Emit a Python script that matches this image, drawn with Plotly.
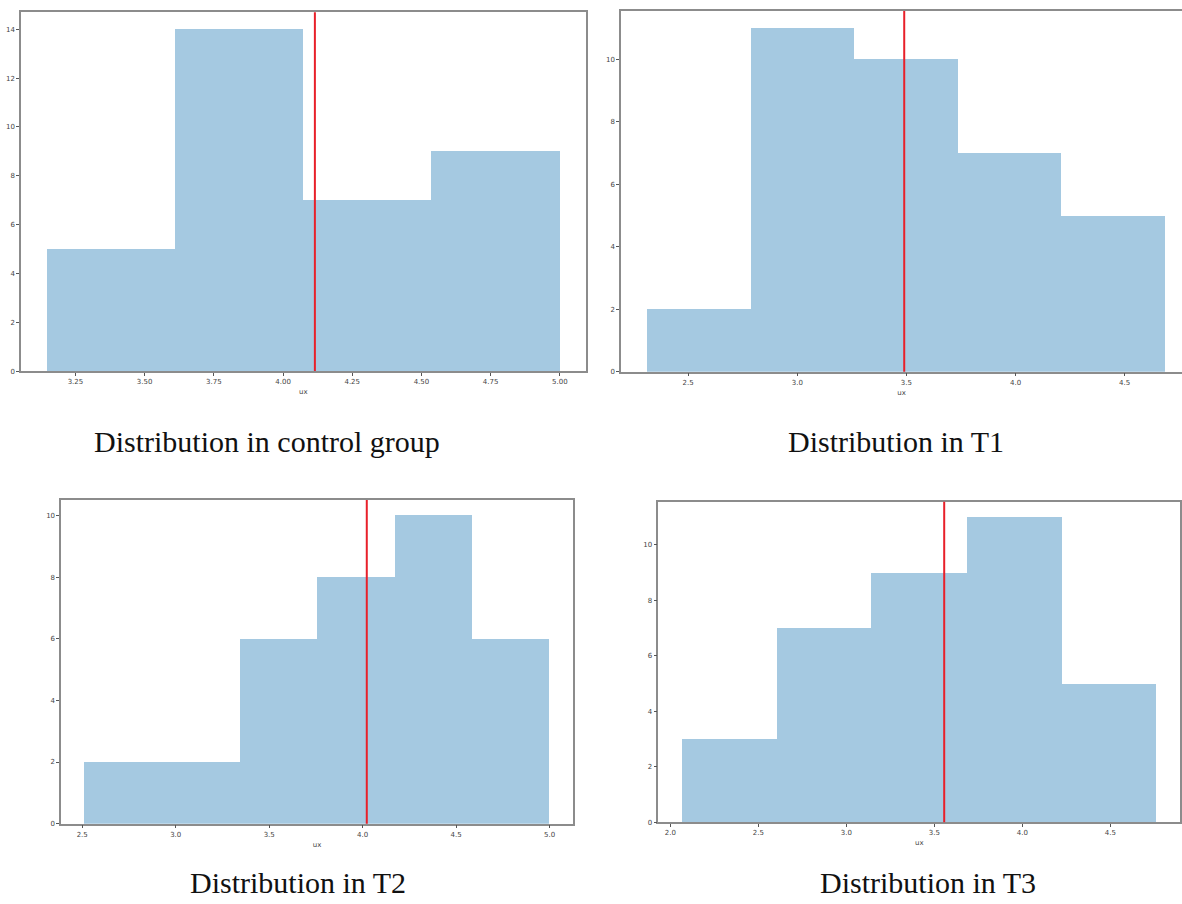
import plotly.graph_objects as go

# ---- data: histogram bin edges, counts and group mean per group ----
control_edges = [3.146, 3.609, 4.072, 4.536, 5.0]
control_counts = [5, 14, 7, 9]
control_mean = 4.115

t1_edges = [2.311, 2.787, 3.259, 3.735, 4.209, 4.683]
t1_counts = [2, 11, 10, 7, 5]
t1_mean = 3.49

t2_edges = [2.512, 2.927, 3.344, 3.756, 4.172, 4.586, 5.0]
t2_counts = [2, 2, 6, 8, 10, 6]
t2_mean = 4.022

t3_edges = [2.066, 2.605, 3.141, 3.685, 4.226, 4.763]
t3_counts = [3, 7, 9, 11, 5]
t3_mean = 3.556

captions = ["Distribution in control group", "Distribution in T1",
            "Distribution in T2", "Distribution in T3"]

control_ticks = [3.25, 3.50, 3.75, 4.00, 4.25, 4.50, 4.75, 5.00]
t1_ticks = [2.5, 3.0, 3.5, 4.0, 4.5]
t2_ticks = [2.5, 3.0, 3.5, 4.0, 4.5, 5.0]
t3_ticks = [2.0, 2.5, 3.0, 3.5, 4.0, 4.5]

W, H = 1182, 904
BAR_COLOR = "rgba(31,119,180,0.4)"
AXIS_COLOR = "#8c8c8c"
TICK_FONT = dict(family="DejaVu Sans", size=7, color="#444444")


def px_x(p):
    return p / W


def px_y(p):
    return 1 - p / H


# panel layout in pixels: (left, right, top, bottom), plus caption centre
panels = [
    dict(edges=control_edges, counts=control_counts, mean=control_mean,
         ticks=control_ticks, fmt="%.2f", box=(21, 585.5, 12.3, 372.7),
         cap=(267, 443), crop_right=False),
    dict(edges=t1_edges, counts=t1_counts, mean=t1_mean,
         ticks=t1_ticks, fmt="%.1f", box=(621, 1182, 11, 373.3),
         cap=(896, 443), crop_right=True, full_right=1190.5),
    dict(edges=t2_edges, counts=t2_counts, mean=t2_mean,
         ticks=t2_ticks, fmt="%.1f", box=(61.2, 572.9, 502.3, 827.3),
         cap=(298, 886), crop_right=False),
    dict(edges=t3_edges, counts=t3_counts, mean=t3_mean,
         ticks=t3_ticks, fmt="%.1f", box=(658.3, 1180.3, 504, 826),
         cap=(928, 886), crop_right=False),
]

fig = go.Figure()
layout = {}
shapes = []
annotations = []

for i, p in enumerate(panels, start=1):
    xa = "x" if i == 1 else f"x{i}"
    ya = "y" if i == 1 else f"y{i}"
    edges, counts = p["edges"], p["counts"]
    centers = [(a + b) / 2 for a, b in zip(edges[:-1], edges[1:])]
    widths = [b - a for a, b in zip(edges[:-1], edges[1:])]

    fig.add_trace(go.Bar(
        x=centers, y=counts, width=widths,
        marker=dict(color=BAR_COLOR, line=dict(width=0)),
        xaxis=xa, yaxis=ya, showlegend=False, hoverinfo="skip",
    ))

    # matplotlib-style 5% horizontal margin, 5% headroom on top
    lo, hi = edges[0], edges[-1]
    pad = 0.05 * (hi - lo)
    xr = [lo - pad, hi + pad]
    left, right, top, bottom = p["box"]
    if p["crop_right"]:
        # the figure is clipped at the right border of the canvas
        full_w = p["full_right"] - left
        xr = [xr[0], xr[0] + (xr[1] - xr[0]) * (right - left) / full_w]
    yr = [0, max(counts) * 1.05]

    xkey = "xaxis" if i == 1 else f"xaxis{i}"
    ykey = "yaxis" if i == 1 else f"yaxis{i}"
    layout[xkey] = dict(
        domain=[px_x(left), px_x(right)], anchor=ya, range=xr,
        tickmode="array", tickvals=p["ticks"],
        ticktext=[p["fmt"] % t for t in p["ticks"]],
        ticks="outside", ticklen=3, tickwidth=1, tickcolor="#555555",
        tickfont=TICK_FONT, showgrid=False, zeroline=False,
        showline=True, linecolor=AXIS_COLOR, linewidth=1.5, mirror=True,
        title=dict(text="ux", font=dict(family="DejaVu Sans", size=7, color="#444444"),
                   standoff=4),
    )
    layout[ykey] = dict(
        domain=[px_y(bottom), px_y(top)], anchor=xa, range=yr,
        tickmode="linear", tick0=0, dtick=2,
        ticks="outside", ticklen=3, tickwidth=1, tickcolor="#555555",
        tickfont=TICK_FONT, showgrid=False, zeroline=False,
        showline=True, linecolor=AXIS_COLOR, linewidth=1.5,
        mirror=not p["crop_right"],
    )

    # group mean marker
    shapes.append(dict(
        type="line", xref=xa, yref=f"{ya} domain",
        x0=p["mean"], x1=p["mean"], y0=0, y1=1,
        line=dict(color="#e8202a", width=2),
    ))

    cx, cy = p["cap"]
    annotations.append(dict(
        text=captions[i - 1], xref="paper", yref="paper",
        x=px_x(cx), y=px_y(cy), xanchor="center", yanchor="middle",
        showarrow=False,
        font=dict(family="Liberation Serif", size=30, color="#111111"),
    ))

fig.update_layout(
    width=W, height=H,
    margin=dict(l=0, r=0, t=0, b=0),
    paper_bgcolor="white", plot_bgcolor="white",
    bargap=0, showlegend=False,
    shapes=shapes, annotations=annotations,
    **layout,
)

fig.write_html("out.html")
